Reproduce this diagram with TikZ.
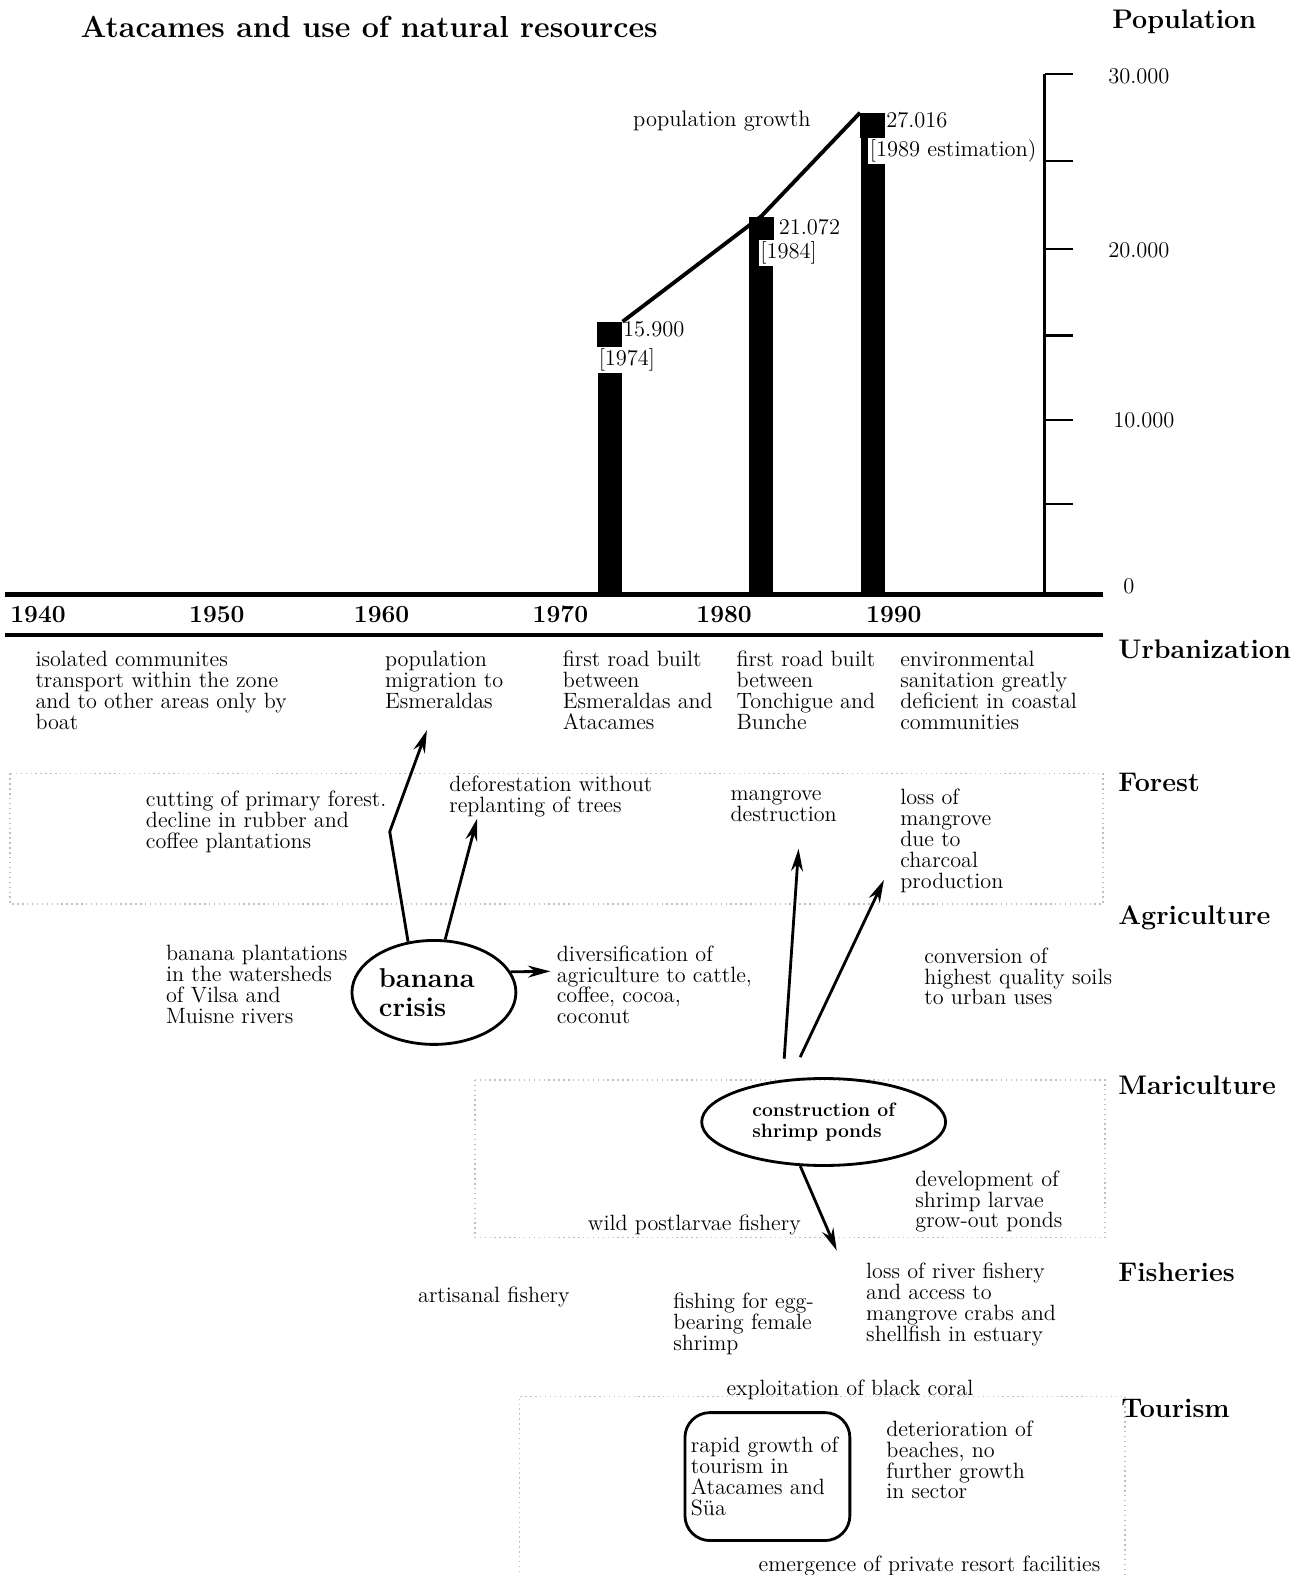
\documentclass[tikz,border=0pt]{standalone}
\usepackage{tikz}
\usetikzlibrary{shapes.geometric, arrows.meta}

\begin{document}
\begin{tikzpicture}[>={Stealth[length=0.45cm, width=0.24cm]}, x=0.02009cm, y=-0.02009cm,
    note/.style={anchor=north west, inner sep=0pt, align=left, font=\fontsize{12.6}{11.9}\selectfont},
    sector/.style={anchor=west, inner sep=0pt, font=\fontsize{15.3}{16}\selectfont\bfseries},
    yearlabel/.style={anchor=west, inner sep=0pt, font=\fontsize{14}{16}\selectfont\bfseries},
    numlabel/.style={anchor=west, inner sep=0pt, font=\fontsize{12.8}{12}\selectfont},
    poplabel/.style={anchor=west, fill=white, inner sep=1pt, font=\fontsize{12.8}{12}\selectfont},
    marker/.style={fill=black, minimum size=0.5cm, inner sep=0pt},
    link/.style={->, line width=1.6pt},
    zone/.style={draw=black!25, dotted, line width=0.8pt}]
  \fill[white] (0,0) rectangle (1296,1568);
  \useasboundingbox (0,0) rectangle (1296,1568);

  % title
  \node[anchor=west, inner sep=0pt, font=\fontsize{17.3}{19}\selectfont\bfseries] (title) at (80,27) {Atacames and use of natural resources};
  \node[sector] (poptitle) at (1107,22) {Population};

  % population scale
  \draw[line width=1.7pt] (1040,74) -- (1040,592);
  \draw[line width=1.2pt] (1040,74) -- (1068,74);
  \draw[line width=1.2pt] (1040,160) -- (1068,160);
  \draw[line width=1.2pt] (1040,248) -- (1068,248);
  \draw[line width=1.2pt] (1040,334) -- (1068,334);
  \draw[line width=1.2pt] (1040,418) -- (1068,418);
  \draw[line width=1.2pt] (1040,502) -- (1068,502);
  \node[numlabel] (s30) at (1103,76) {30.000};
  \node[numlabel] (s20) at (1103,249) {20.000};
  \node[numlabel] (s10) at (1108,418) {10.000};
  \node[numlabel] (s0) at (1118,584) {0};

  % bars
  \fill (595,333) rectangle (619,592);
  \fill (746,228) rectangle (770,592);
  \fill (857,125) rectangle (881,592);
  \node[marker] (sq74) at (607,333) {};
  \node[marker] (sq84) at (758,228) {};
  \node[marker] (sq89) at (869,125) {};
  \draw[line width=2.2pt] (sq74.north east) -- (sq84.north) -- (sq89.north west);
  \node[numlabel] (growth) at (630,120) {population growth};
  \node[numlabel] (v74) at (620,328) {15.900};
  \node[poplabel] (y74) at (594,358) {[1974]};
  \node[numlabel] (v84) at (775,226) {21.072};
  \node[poplabel] (y84) at (755,252) {[1984]};
  \node[numlabel] (v89) at (882,120) {27.016};
  \node[poplabel] (y89) at (864,150) {[1989 estimation)};

  % time axis
  \draw[line width=2.8pt] (5,592) -- (1098,592);
  \draw[line width=2.2pt] (5,632) -- (1098,632);
  \node[yearlabel] (t40) at (10,612) {1940};
  \node[yearlabel] (t50) at (188,612) {1950};
  \node[yearlabel] (t60) at (352,612) {1960};
  \node[yearlabel] (t70) at (530,612) {1970};
  \node[yearlabel] (t80) at (693,612) {1980};
  \node[yearlabel] (t90) at (862,612) {1990};

  % sector bands
  \draw[zone] (10,770) rectangle (1098,900);
  \draw[zone] (473,1075) rectangle (1100,1232);
  \draw[zone] (517,1575) -- (517,1390) -- (1120,1390) -- (1120,1575);

  % urbanization
  \node[sector] (urb) at (1113,646) {Urbanization};
  \node[note] (isol) at (35,648) {isolated communites\\transport within the zone\\and to other areas only by\\boat};
  \node[note] (migr) at (383,648) {population\\migration to\\Esmeraldas};
  \node[note] (road1) at (560,648) {first road built\\between\\Esmeraldas and\\Atacames};
  \node[note] (road2) at (733,648) {first road built\\between\\Tonchigue and\\Bunche};
  \node[note] (sanit) at (896,648) {environmental\\sanitation greatly\\deficient in coastal\\communities};

  % forest
  \node[sector] (forest) at (1113,779) {Forest};
  \node[note] (cutting) at (145,787) {cutting of primary forest.\\decline in rubber and\\coffee plantations};
  \node[note] (defor) at (447,772) {deforestation without\\replanting of trees};
  \node[note] (mangdes) at (727,787) {mangrove\\destruction};
  \node[note] (charc) at (896,785) {loss of\\mangrove\\due to\\charcoal\\production};

  % agriculture
  \node[sector] (agri) at (1113,914) {Agriculture};
  \node[note] (banpl) at (165,941) {banana plantations\\in the watersheds\\of Vilsa and\\Muisne rivers};
  \node[draw, ellipse, line width=1.6pt, minimum width=3.28cm, minimum height=2.08cm, inner sep=0pt, text width=2.2cm, align=left, font=\fontsize{15.5}{16.5}\selectfont\bfseries] (crisis) at (432,988) {banana\\crisis};
  \node[note] (divers) at (554,941) {diversification of\\agriculture to cattle,\\coffee, cocoa,\\coconut};
  \node[note] (conv) at (920,943) {conversion of\\highest quality soils\\to urban uses};

  % mariculture
  \node[sector] (mari) at (1113,1080) {Mariculture};
  \node[draw, ellipse, line width=1.6pt, minimum width=4.88cm, minimum height=1.74cm, inner sep=0pt, align=left, font=\fontsize{11}{12}\selectfont\bfseries] (ponds) at (820,1117) {construction of\\shrimp ponds};
  \node[note] (devel) at (911,1165) {development of\\shrimp larvae\\grow-out ponds};
  \node[note] (wild) at (585,1209) {wild postlarvae fishery};

  % fisheries
  \node[sector] (fish) at (1113,1267) {Fisheries};
  \node[note] (artis) at (416,1281) {artisanal fishery};
  \node[note] (eggs) at (670,1287) {fishing for egg-\\bearing female\\shrimp};
  \node[note] (river) at (862,1257) {loss of river fishery\\and access to\\mangrove crabs and\\shellfish in estuary};

  % tourism
  \node[sector] (tour) at (1116,1402) {Tourism};
  \node[note] (coral) at (723,1373) {exploitation of black coral};
  \node[draw, rounded corners=0.5cm, line width=1.6pt, minimum width=3.3cm, minimum height=2.56cm, text width=3.06cm, inner sep=0.12cm, align=left, font=\fontsize{12.6}{11.9}\selectfont] (growthbox) at (764,1470) {rapid growth of\\tourism in\\Atacames and\\Süa};
  \node[note] (deter) at (882,1414) {deterioration of\\beaches, no\\further growth\\in sector};
  \node[note] (resort) at (755,1549) {emergence of private resort facilities};

  % effects
  \coordinate (migrTip) at (425,727);
  \coordinate (deforTip) at (475,815);
  \coordinate (diversTip) at (548,967);
  \coordinate (mangTip) at (795,845);
  \coordinate (charcTip) at (880,876);
  \coordinate (riverTip) at (833,1245);
  \draw[link] (crisis.117) -- (388,828) -- (migrTip);
  \draw[link] (crisis.78) -- (deforTip);
  \draw[link] (crisis.15) -- (diversTip);
  \draw[link, shorten <=0.42cm] (ponds.134) -- (mangTip);
  \draw[link, shorten <=0.48cm] (ponds.128) -- (charcTip);
  \draw[link] (ponds.-118) -- (riverTip);
\end{tikzpicture}
\end{document}
